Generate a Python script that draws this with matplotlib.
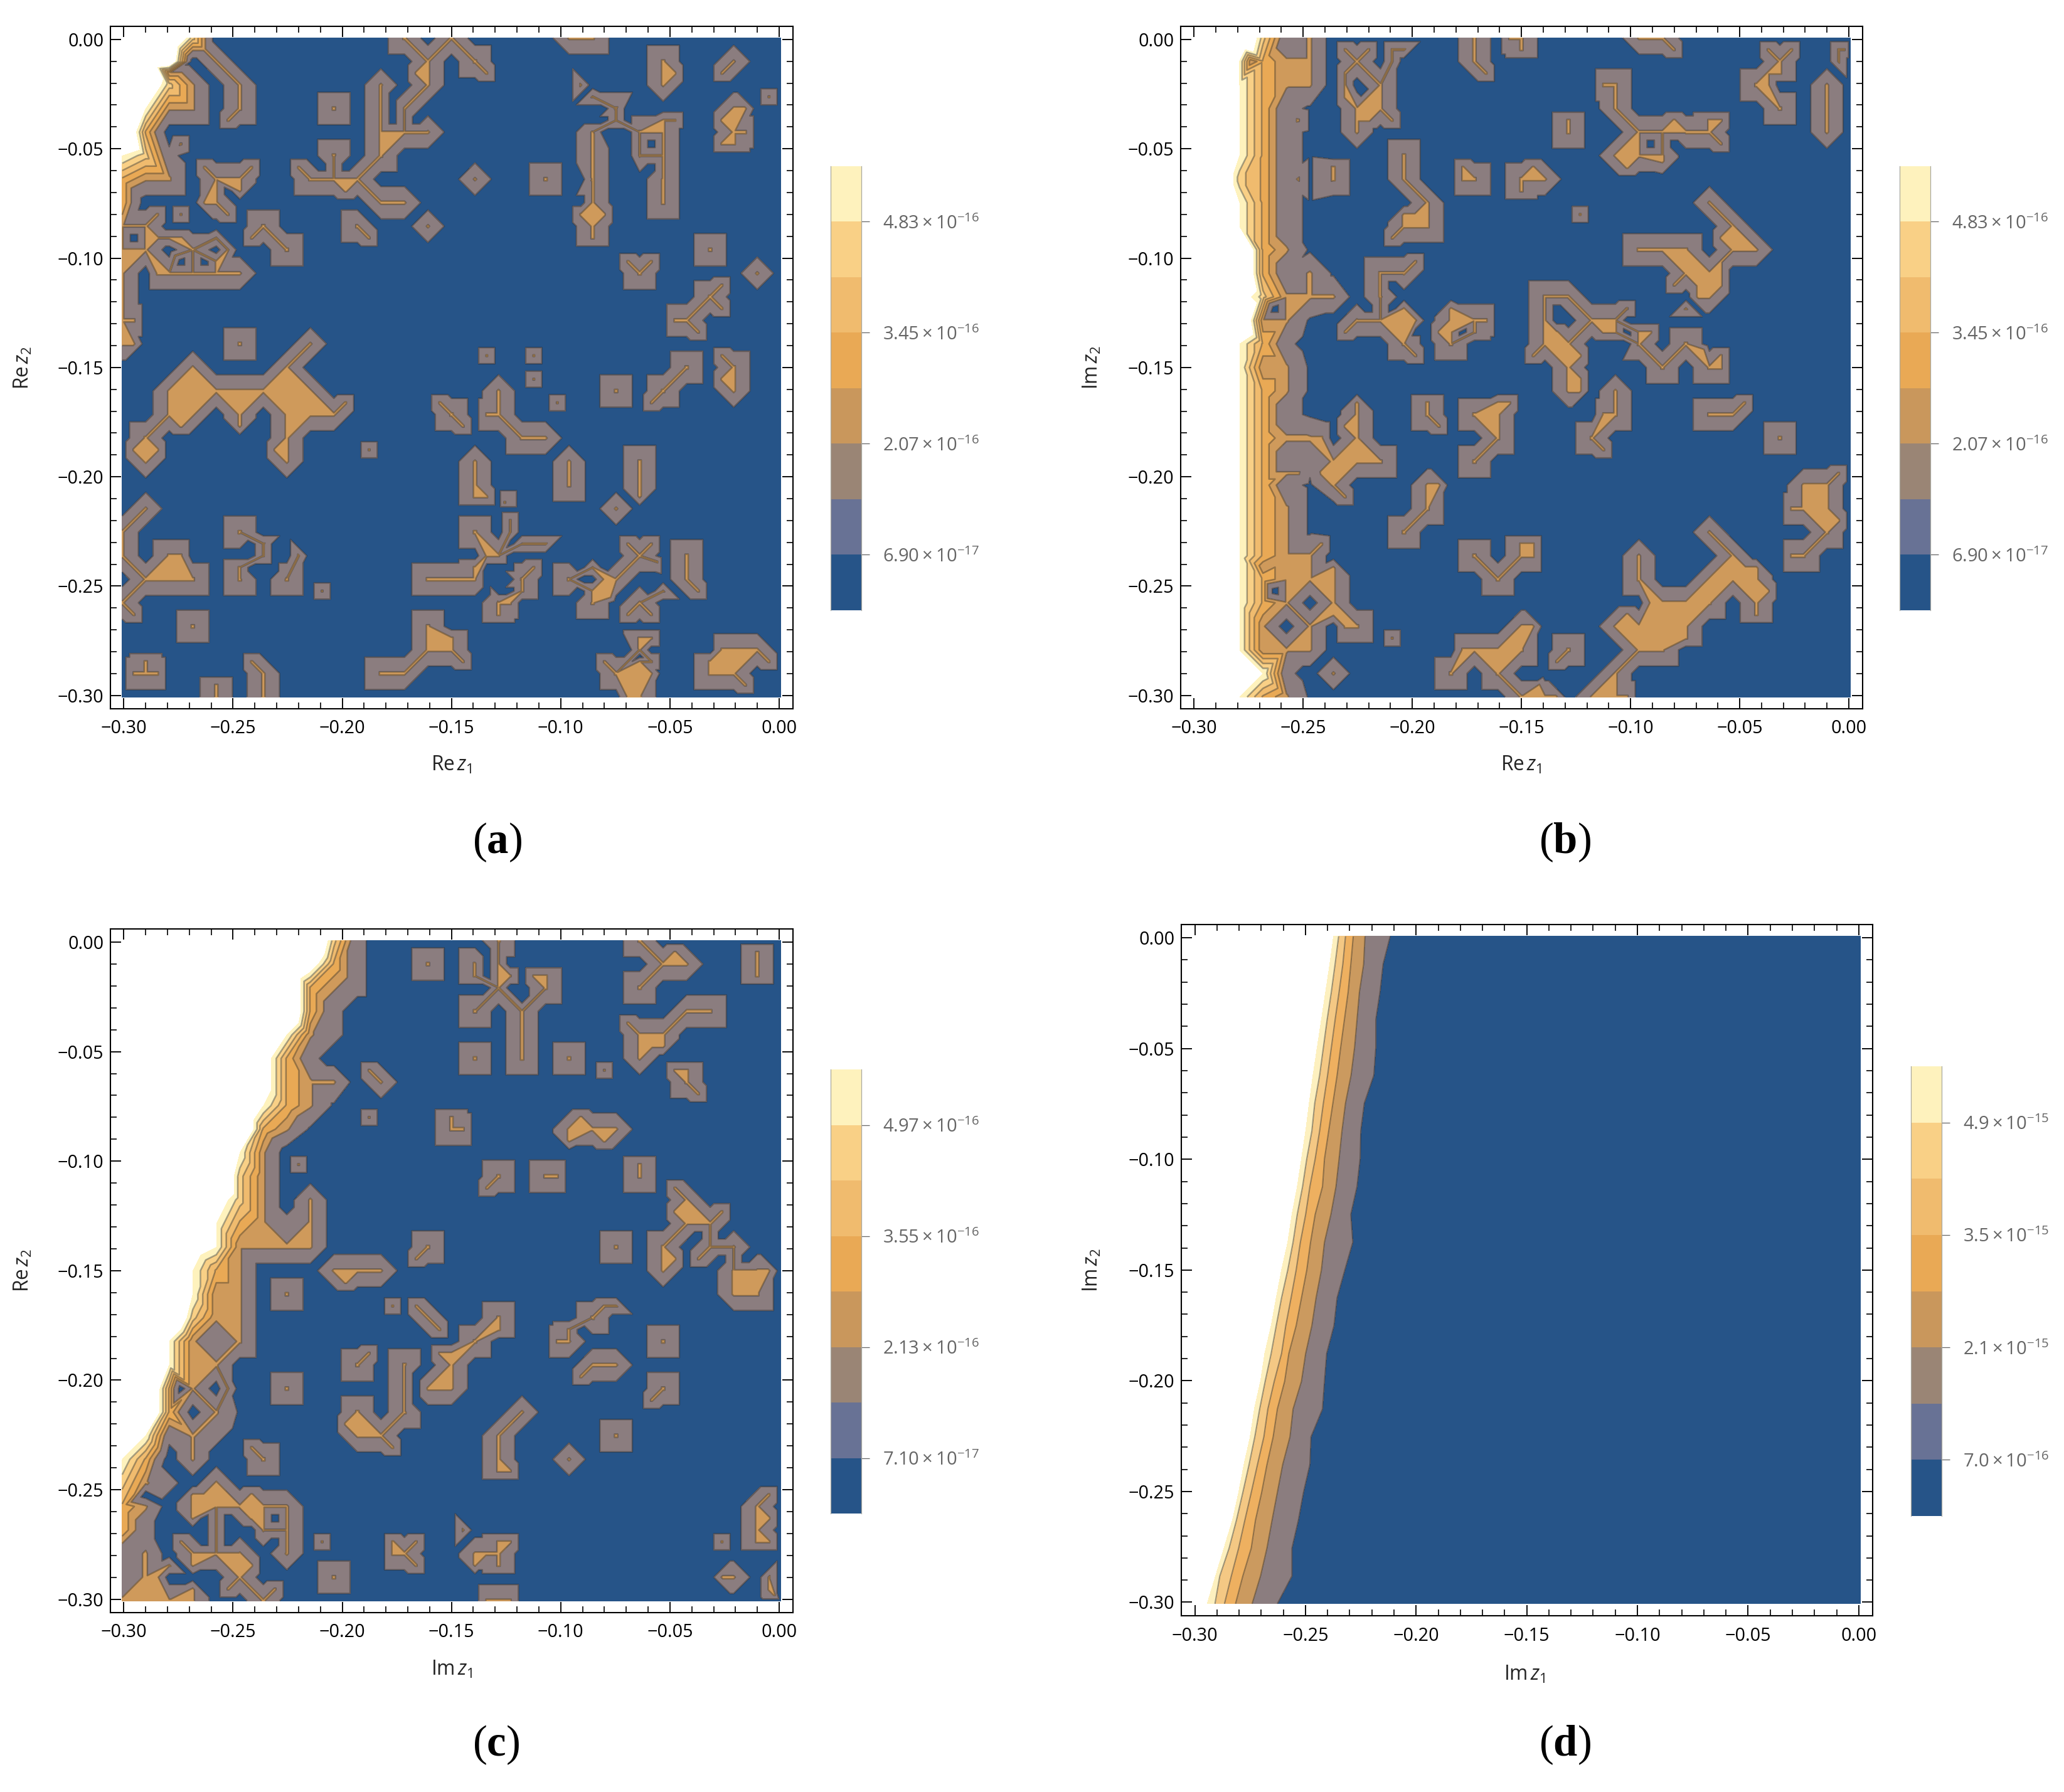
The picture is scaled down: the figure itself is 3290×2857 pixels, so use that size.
import numpy as np
import matplotlib
matplotlib.use('Agg')
import matplotlib.pyplot as plt
from matplotlib.colors import ListedColormap
from matplotlib.ticker import FixedLocator, FuncFormatter
from matplotlib.tri import Triangulation

plt.rcParams['font.family'] = ['Open Sans', 'DejaVu Sans']
plt.rcParams['mathtext.fontset'] = 'custom'
plt.rcParams['mathtext.rm'] = 'Open Sans'
plt.rcParams['mathtext.it'] = 'Open Sans:italic'
plt.rcParams['mathtext.bf'] = 'Liberation Serif:bold'

W, H = 3290, 2857
DPI = 300

# error values, in units of 1e-16, on a 29 x 29 grid (index i across, j down)
# points listed below have the value 2 (2.22e-16), half steps are mesh refinements
A_PTS = [(12,0),(14,0),(19,0),(20,0),(3.5,.5),(4,1),(4.5,1.5),(5,2),(5,2.5),(5,3),(4.5,3.5),(2,1.5),
    (13,1),(13,2),(12.5,1.5),(12,3),(12,4),(11,2),(11,3),(11,4),(11,5),(10.5,5.5),
    (10,6),(9,6),(8,6),(7.5,5.5),(9.5,6.5),(13,4),(9,5),(9,3),(15,6),(18,6),(13,8),(11,7),(12,7),
    (10,8),(10.5,8.5),(7,9),(6,8),(5.5,8.5),(4,8.5),(4.5,9),(15,1),(15.5,1.5),(19.5,2),(20,2.5),
    (21,3),(21,3.5),(23,1),(23,2),(23.5,1.5),(26,1),(25.5,1.5),(27.5,2.5),(26,3),(26.5,3),(26,4),
    (26.5,4),(25.5,3.5),(25.5,4.5),(26,4.5),(23,3.5),(23.5,3.5),(23,4),(22,4),(23,5),(22,5),(23,6),
    (23,7),(20,4),(20,5),(20,6),(20,7),(20.5,7.5),(20,8),(19.5,7.5),(20,8.5),(25,9),(21.5,9.5),
    (22.5,9.5),(22,10),(27,10),(25.5,10.5),(25,11),(25.5,11.5),(23.5,12),(24,12),(24.5,12.5),
    (25.5,13.5),(26,14),(25.5,14.5),(26,15),(24,14),(23.5,14.5),(23,15),(22.5,15.5),(21,15),
    (17.5,13.5),(15.5,13.5),(17.5,14.5),(18.5,15.5),(16,15),(16,16),(15.5,16),(13.5,15.5),(14,16),
    (14.5,16.5),(17,17),(18,17),(15,18),(15,19),(15.5,19.5),(15,19.5),(19,18),(19,19),(22,18),
    (22,19),(22,19.5),(21,20),(1,20),(1,17),(.5,17.5),(1.5,17.5),(1,18),(1,17.5),(10.5,17.5),
    (3,14),(3,15),(2,15),(2,16),(3,16),(2.5,16.5),(4,15),(5,15),(5,16),(5,16.5),(6,15),(8,13),(7,14),
    (7,15),(8,15),(8,16),(7,16),(9,16),(9.5,15.5),(7,17),(6.5,17.5),(7,18),(5,13),(0,12),(.5,12),
    (0,13),(.5,13),(0,11),(1.5,10),(2,10),(3,10),(4,10),(5,10),(4,9.5),(3,9),(1.5,8.5),(2,8.5),
    (2.5,8.5),(1.5,7.5),(2.5,7.5),(3.5,7),(4,7),(4.5,7.5),(2.25,9.25),(3.5,5.5),(4,6),(5,6),(5.5,5.5),
    (5,6.5),(2.5,4.5),(5,21),(6,21.5),(6,22),(7.5,22),(7,23),(5,22.5),(5,23),(8.5,23.5),(0,21),(0,22),
    (0,24),(.5,24.5),(2.5,22),(2,22),(1,23),(2,23),(3,23),(3,25),(1,26.5),(1,27),(.5,27),(1.5,27),
    (5.5,26.5),(6,27),(6,28),(4,27.5),(4,28),(13,25),(13,26),(12.5,26.5),(12,27),(11,27),(14,25.5),
    (14,26),(14.5,26.5),(15,21),(16.25,19.75),(16.5,20.5),(16.5,21),(17,21.5),(17.5,21.5),(18,21.5),
    (15.5,22),(16,22),(17.5,22.5),(17,23),(17,23.5),(15,22.5),(15,23),(14,23),(13,23),(16,24),
    (16.5,24),(16,24.5),(19,23),(20,22.5),(22.5,21.5),(22,22),(21.5,22.5),(21,23),(20.5,23),(20,23.5),
    (20,24),(21.5,21.5),(22.75,22.25),(20.75,23.75),(24,22),(24,23),(24.5,23.5),(23,23.5),(22,24),
    (21.5,24.5),(22.5,24.5),(22,25.5),(22.5,25.5),(22,26),(20.5,26.5),(21,27),(22,27),(22,28),(22,26.5),
    (22.5,26.5),(22.5,27),(21.5,28),(25,26.5),(25,27),(25.5,26),(26,26),(26.5,26.5),(27,26),
    (27.5,26.5),(26,27),(26.5,27.5)]
A_LOW = [(.5,8.5),(11.5,2.5),(11.5,3),(11.5,3.5),(3.5,9.5),(2.5,9.5),(4.5,6.5),(20,3.5),(20.5,3.5),(19.5,3.5),
    (20.5,4),(21.5,4),(21.5,5),(21.5,4.5),(20.5,3),(21.5,3),(21.5,3.5),(5.5,21.5),(5.5,22),(5.5,22.5),
    (6.5,21.5),(6.5,22),(6.5,22.5),(6,22.5),(15.5,22.5),(15.5,23),(15.5,23.5),(16,22.5),(16,23.5),(16.5,22),
    (16.5,22.5),(16.5,23),(16.5,23.5),(16.5,21.5),(17.5,22),(19.5,22.5),(19.5,23),(19.5,23.5),(20.5,22.5),
    (19.5,22),(21.5,23.5),(22.5,23.5),(21.5,26),(22.5,26),(22,26.25),(19.5,7),(19.5,6),(18.5,17.5),(21.5,19.5),
    (12.5,7.5),(10.5,7.5),(9.5,5.5),(8.5,5.5),(12.5,3.5),(22.5,5.5),(22.5,4.5)]
A_EDGE = {0:'8884', 1:'8870', 2:'8742', 3:'8522', 4:'8300', 5:'5410', 6:'322', 7:'3', 8:'22', 9:'22', 10:'2'}

B_PTS = [(2.5,1),(6.5,.5),(7.5,.5),(7,1),(6.5,1.5),(7.5,1.5),(8,2),(6.5,2),(6.5,2.5),(7,3),(8,3),(8,2.5),
    (7,3.5),(7,4),(8.5,3.5),(8.5,.5),(9,.5),(8.5,1),(12,0),(12,.5),(12,1),(12.5,1.5),(14,0),(14,.5),
    (13.5,0),(19,0),(20,0),(20.5,.5),(24.5,.5),(25.5,.5),(25,1),(24.5,1.5),(25,1.5),(24.5,2),(24,2),
    (27.5,.5),(27.75,.5),(27.5,1),(27,2),(27,3),(27,4),(25,3),(18,2),(17.5,2),(18,3),(16,3.5),(16,4),
    (22,3.5),(22.5,3.5),(22,4),(22.5,4.5),(20,4),(21,4),(20.5,3.5),(19,4),(19,5),(20,5),(18,5),(18.5,5.5),
    (20,5.25),(9,5),(9,6),(9.5,6.5),(10,7),(10,8),(9,8),(8.5,8.5),(9,7.5),(6,5.5),(6,6),(11.5,5.5),
    (11.5,6),(12,6),(14.5,5.5),(14,6),(15,6),(14,6.5),(22,7),(16.5,7.5),(23,8),(22.5,8.5),(23,9),(24,9),
    (22.5,9.5),(22,10),(22.5,10),(22,11),(21.5,11),(22.5,10.5),(21,10),(20.5,10.5),(21,9),(20,9),(19,9),
    (21,11.5),(21,13),(21.75,13.25),(20,14),(22.5,13.5),(22,14),(22.5,14),(19,12.5),(19.5,12.5),(19,13),
    (9.5,9.5),(9,10),(8,10),(8,11),(8,12),(7,12),(6.5,12.5),(9,12),(9,11.5),(9.5,12),(9,13),(9.5,13.5),
    (11,11.5),(11,12),(12,12),(12.5,12),(12,12.5),(10.5,12.5),(11,13),(11,12.5),(15,11),(16,11),
    (17,12),(18,12),(18.5,11.5),(18,12.5),(17.5,12.5),(15,12),(15,13),(14.5,13.5),(16,13),(16,14),
    (16.5,14.5),(16,14.5),(16.5,13.5),(18,15),(18,16),(17.5,16),(16,15),(16.5,15),(10,15.5),(10,16),
    (10.5,16.5),(13.5,15.5),(13,16),(12,16),(13,17),(13,15.5),(12.5,16.5),(7,15.5),(7,16),(6.5,16.5),
    (7,17),(7,18),(22,16),(23,16),(23.5,15.5),(25,17),(17,17),(17.5,17.5),(12,18),(7.5,18),(8,18),(10,19),
    (10.5,19),(10,19.5),(10,20),(9,21),(12,22),(22,21),(19,22),(19,23),(14,21.5),(14.5,21.5),(14,22),
    (14.5,22),(13.5,22.5),(13,23),(23,22),(23,23),(22,23),(24,23),(24,22.5),(24,24),(24,24.5),(24.5,23.5),
    (21.5,23.5),(21,24),(19.5,24),(20,24),(22,24),(20,25),(21,25),(19,25),(18,25),(18.5,24.5),(21,25.5),
    (19,26),(20,26),(18.5,26.5),(18,27),(17.5,27.5),(17,28),(18,28),(18.5,28),(18,27.5),(27.5,18.5),(27,19),
    (26,19),(26,20),(27,20),(25.5,20),(27.5,20.5),(27,21),(26.5,21.5),(26,22),(25.5,22),(26.5,20.5),(11,27),
    (11.5,26),(12,26),(13,26),(14,25),(14.5,25),(14,26),(13.5,26.5),(12.5,26.5),(13,27),(14,28),(13.5,27.5),
    (14.5,28),(15,28),(15.5,28),(14.75,27.5),(15.5,26.5),(16,26),(8.5,25.5),(6.5,25),(7,25),(6,27),(6,18),
    (5.5,18.5),(6,19),(6.5,19.5),(4,18.5),(4.5,18.5),(4,19),(4.5,3.5),(4.5,6),(5.5,21.5),(6,22.5),(6,23),
    (6,24),(6,24.5),(5.5,23.5),(5.5,17),(3,22.5)]
B_LOW = [(3.5,11.5),(3.5,23.5),(7.25,2.25),(18.5,12),(18.5,12.5),(18.5,13),(11.5,12.5),(8.5,10.5),(8.5,11.5),
    (7.5,11.5),(10,12.5),(9.5,12.5),(15.5,11.5),(15.5,12),(19.5,4.5),(20.5,4.5)]
B_EDGE = {0:'888412', 1:'885322', 2:'885322', 3:'88531a', 4:'88531a', 5:'88531a', 6:'88431a', 7:'88531a',
    8:'88531a', 9:'88832a', 10:'888312a', 11:'8864222', 12:'88822a', 13:'88531', 14:'88522a', 15:'88532a',
    16:'88531a', 17:'885322', 18:'885311', 19:'88531a', 20:'88532a', 21:'88532a', 22:'885322', 23:'885322',
    24:'88532', 25:'885202', 26:'885222', 27:'88551', 28:'88532a'}

C_PTS = [(16,0),(13,1),(15,1),(15,1.5),(16,1),(16.5,1.5),(16,2),(17.5,1.5),(18,1.5),(18,2),(22,0),(22.5,.5),
    (23,1),(24,1),(23.5,.5),(27,.5),(27,1),(27,1.5),(22,2),(15,3),(17,3),(17,4),(17,5),(15,5),(19,5),
    (20.5,5.5),(10.5,5.5),(11,6),(10.5,7.5),(14,7.5),(14,8),(14.5,8),(23.5,5.5),(24,6),(24.5,6.5),(24,5.5),
    (21.5,3.5),(22,4),(23,4),(24,3),(25,3),(23.5,3.5),(22,5),(23,4.5),(22.5,4.5),(19,8),(19.5,7.5),(20,8),
    (21,8),(20.5,8.5),(19,8.5),(7.5,9.5),(16,10),(15.5,10.5),(18,10),(18.5,10),(22,9.5),(22,10),(23.5,10.5),
    (24,11),(24,12),(25,12),(25.5,11.5),(23.5,11.5),(25,13),(24.5,13.5),(26,13),(26,14),(26,15),(27,15),
    (27,14),(27.5,14),(21,13),(23,13),(23.5,13.5),(23,14),(13,13),(12.5,13.5),(9,14),(10,14),(11,14),
    (9.5,14.5),(7,15),(11.5,15.5),(12.5,15.5),(13,16),(13.5,16.5),(20.5,15.5),(21,15.5),(20,16),(16,16),
    (16,16.5),(15,17),(19,16.5),(19,17),(18.5,17),(23,17),(10.5,17.5),(10,18),(12,18),(12,19),(12,20),
    (11.5,20.5),(11,21),(11.5,21.5),(10,20),(9.5,20.5),(10,21),(10.5,20.5),(13.5,17.5),(14,17.5),(14,18),
    (14,19),(13,19),(13.5,18.5),(21,18),(20.5,18),(20,18),(19.5,18.5),(23,19),(22.5,19.5),(7,19),(4.5,19),
    (17,20),(21,21),(19,22),(16,21),(16,22),(16,22.5),(16.5,22.5),(5.5,21.5),(6,22),(14.5,25),(8.5,25.5),
    (25.5,25.5),(27.5,23.5),(27,24),(27.5,24.5),(27,25),(27.5,25.5),(27,25.5),(27.5,27),(27.5,27.5),
    (27.75,27.75),(25.5,27),(26,27),(9,27),(16,28),(15.5,28),(16.5,28),(6,28),(6.5,27.5),(4.5,27.5),(5,27),
    (5.5,26.5),(5,26.5),(4,23),(4,24),(4,25),(4,26),(3,24),(5,24),(5.5,23.5),(6,24),(7,24),(7,25),(7,26),
    (6,25),(5.5,24.5),(3,23.5),(3,24.5),(3,26),(5,26),(2.5,25.5),(3,26.5),(11.5,25.5),(11.5,26),(12,26),
    (12.5,25.5),(12.5,26.5),(16.5,25.5),(16,25.5),(16,26),(15.5,26),(15,26),(15,26.5),(16,26.5),(2,26.5),
    (1,27.5),(1,27),(1.5,27),(2,28),(3,28),(3,27.5),(8,11),(8,12)]
C_LOW = [(2.5,19),(1,23.5),(6.5,24.5),(15.5,.5),(15.5,1),(15.5,1.5),(15.5,2),(17,1.5),(17,2.5),(16.5,1),(16.5,2),
    (19.5,16.5),(19.5,17.5),(12.5,18.5),(12.5,19),(12.5,19.5),(3.5,24.5),(3.5,25),(4.5,24.5),(4.5,25),(3.5,25.5),
    (4.5,25.5),(5.5,25),(5.5,25.5),(6.5,25.5),(25.5,12.5),(25.5,13.5),(24.5,12.5),(26.5,13.5)]
C_EDGE = {0:'88888888841', 1:'88888888631', 2:'88888888321', 3:'8888888831', 4:'8888888521', 5:'888888631',
    6:'8888886322', 7:'888888532a', 8:'88888832a', 9:'8888852', 10:'8888842', 11:'8888642', 12:'888853212',
    13:'888652222', 14:'888532', 15:'888522', 16:'888422', 17:'885212', 18:'88522', 19:'8832', 20:'88302a',
    21:'85121', 22:'53020', 23:'421', 24:'32', 25:'31', 26:'12', 27:'12', 28:'22'}

# panel (d) is a smooth band: x position (in 1e-3) of each contour, read row by row
D_ROWS = [0,-12.5,-25,-37.5,-50,-62.5,-75,-87.5,-100,-112.5,-125,-137.5,-150,-162.5,-175,-187.5,-200,
    -212.5,-225,-237.5,-250,-262.5,-275,-287.5,-300]
D_EDGE_TOP = [-237.3,-239.0,-240.9,-242.8,-244.7,-246.6,-248.3,-249.9,-251.8,-253.7,-256.1,-258.0,-260.8,
    -263.2,-265.5,-268.4,-270.3,-273.1,-275.0,-277.8,-280.2,-283.0,-286.8,-290.6,-294.4]
D_EDGE_4 = [-235.0,-236.6,-238.3,-240.2,-241.9,-243.6,-245.8,-247.1,-249.4,-251.3,-253.7,-255.6,-258.0,
    -260.8,-263.2,-265.5,-268.2,-270.7,-272.9,-275.5,-278.3,-281.2,-284.5,-288.7,-290.9]
D_EDGE_3 = [-231.9,-233.1,-234.8,-236.6,-238.3,-240.0,-241.9,-243.6,-245.6,-248.0,-249.9,-252.3,-254.2,
    -256.5,-258.9,-260.8,-264.1,-267.0,-268.8,-271.7,-274.5,-277.4,-280.2,-283.5,-286.6]
D_EDGE_2 = [-228.4,-229.5,-230.7,-232.4,-234.1,-235.7,-237.6,-239.5,-241.4,-242.3,-245.6,-247.7,-249.4,
    -251.8,-254.2,-257.5,-259.4,-262.7,-264.6,-267.4,-269.8,-272.6,-274.5,-278.3,-281.6]
D_EDGE_1 = [-223.1,-223.7,-225.6,-226.7,-227.8,-229.4,-231.9,-233.5,-234.8,-236.2,-238.5,-241.4,-242.8,
    -245.2,-247.1,-249.9,-251.8,-255.6,-257.0,-260.3,-262.7,-265.1,-267.4,-270.3,-274.1]
D_EDGE_0 = [-211.7,-214.9,-216.3,-218.2,-218.2,-219.1,-223.4,-225.0,-225.3,-226.7,-229.5,-228.6,-232.2,
    -235.7,-237.1,-240.4,-241.4,-242.3,-247.5,-248.0,-250.9,-253.2,-256.1,-256.1,-262.7]

# colours and contour levels (1e-16 for a, b, c)
BAND_COLORS = ['#265488', '#687295', '#9a8575', '#c9975c', '#e9a955', '#f0bb6e', '#f9d086', '#fef2bd']
PLOT_LEVELS = [-1, 0.69, 2.07, 2.76, 3.45, 4.14, 4.83, 5.52]
PLOT_COLORS = ['#265488', '#8b7d7f', '#cf9a5b', '#e9a955', '#f0bb6e', '#f9d086', '#fef2bd']
D_LEVELS = [-1, 0.69, 2.07, 3.45, 4.14, 5.52, 6.0]
D_COLORS = ['#265488', '#8b7d7f', '#cb9a5f', '#eeb060', '#f4c884', '#fdf0bf']

TICKS_AB = [('6.90', -17), ('2.07', -16), ('3.45', -16), ('4.83', -16)]
TICKS_C = [('7.10', -17), ('2.13', -16), ('3.55', -16), ('4.97', -16)]
TICKS_D = [('7.0', -16), ('2.1', -15), ('3.5', -15), ('4.9', -15)]

fig = plt.figure(figsize=(W / DPI, H / DPI), dpi=DPI)


def add_px_axes(l, t, r, b):
    return fig.add_axes([l / W, 1 - b / H, (r - l) / W, (b - t) / H])


def px_text(x, y, s, **kw):
    fig.text(x / W, 1 - y / H, s, ha='center', va='center', **kw)


def style_axes(ax):
    ax.set_xlim(-0.3061, 0.0063)
    ax.set_ylim(-0.3061, 0.0060)
    major = [-0.30, -0.25, -0.20, -0.15, -0.10, -0.05, 0.0]
    minor = [-k / 100 for k in range(31) if k % 5]
    for axis in (ax.xaxis, ax.yaxis):
        axis.set_major_locator(FixedLocator(major))
        axis.set_minor_locator(FixedLocator(minor))
        axis.set_major_formatter(FuncFormatter(lambda v, p: f'{v:.2f}'.replace('-', '\u2212')))
    ax.tick_params(which='major', direction='in', length=4.0, width=0.45, top=True, right=True,
                   labelsize=6.9, pad=2.6)
    ax.tick_params(which='minor', direction='in', length=2.5, width=0.4, top=True, right=True)
    ax.tick_params(axis='x', which='major', pad=4.2)
    for s in ax.spines.values():
        s.set_linewidth(0.5)


def is_lattice(i, j):
    return float(i).is_integer() and float(j).is_integer()


def build_mesh(pts, low, edge):
    n = 29
    z = np.zeros((n, n))
    extra = {}
    for i, j in pts:
        if is_lattice(i, j):
            z[int(j), int(i)] = 2.22
        else:
            extra[(i, j)] = 2.22
    # diagonal runs over odd lattice points have no mesh edge, join them through the cell centre
    high = {(int(i), int(j)) for i, j in pts if is_lattice(i, j)}
    for i, j in high:
        if (i + j) % 2:
            if (i + 1, j + 1) in high:
                extra[(i + .5, j + .5)] = 2.22
            if (i + 1, j - 1) in high:
                extra[(i + .5, j - .5)] = 2.22
    for i, j in low:
        if is_lattice(i, j):
            z[int(j), int(i)] = 0.0
        else:
            extra[(i, j)] = 0.0
    for j, row in edge.items():
        for i, c in enumerate(row):
            z[j, i] = 0.5 if c == 'a' else int(c) * 1.11

    xs = [float(i) for j in range(n) for i in range(n)]
    ys = [float(j) for j in range(n) for i in range(n)]
    vals = list(z.ravel())
    tris = []
    for j in range(n - 1):
        for i in range(n - 1):
            a, b, c, d = i + n * j, i + 1 + n * j, i + 1 + n * (j + 1), i + n * (j + 1)
            # union jack split, the diagonal starts from the even lattice points
            if (i + j) % 2 == 0:
                tris += [(a, b, c), (a, c, d)]
            else:
                tris += [(b, c, d), (b, d, a)]

    # insert the refinement points
    for (px, py), v in extra.items():
        k = len(xs)
        xs.append(float(px))
        ys.append(float(py))
        vals.append(v)
        out = []
        for t in tris:
            p0, p1, p2 = t
            det = (xs[p1] - xs[p0]) * (ys[p2] - ys[p0]) - (xs[p2] - xs[p0]) * (ys[p1] - ys[p0])
            l1 = ((px - xs[p0]) * (ys[p2] - ys[p0]) - (xs[p2] - xs[p0]) * (py - ys[p0])) / det
            l2 = ((xs[p1] - xs[p0]) * (py - ys[p0]) - (px - xs[p0]) * (ys[p1] - ys[p0])) / det
            l0 = 1 - l1 - l2
            eps = 1e-9
            if min(l0, l1, l2) < -eps:
                out.append(t)
            elif abs(l0) < eps:
                out += [(p1, k, p0), (k, p2, p0)]
            elif abs(l1) < eps:
                out += [(p2, k, p1), (k, p0, p1)]
            elif abs(l2) < eps:
                out += [(p0, k, p2), (k, p1, p2)]
            else:
                out += [(p0, p1, k), (p1, p2, k), (p2, p0, k)]
        tris = out

    pad = 0.0007
    step = (0.3 + 2 * pad) / 28
    x = -0.3 - pad + np.array(xs) * step
    y = pad - np.array(ys) * step
    return Triangulation(x, y, np.array(tris)), np.array(vals)


def draw_grid_panel(ax, pts, low, edge):
    tri, vals = build_mesh(pts, low, edge)
    ax.tricontourf(tri, vals, levels=PLOT_LEVELS, colors=PLOT_COLORS)
    ax.tricontour(tri, vals, levels=PLOT_LEVELS[1:-1], colors='#2a2a2a', linewidths=0.6, alpha=0.42)


def draw_band_panel(ax):
    n = len(D_ROWS)
    y = np.array(D_ROWS) / 1000 * (0.3014 / 0.3) + 0.0007
    left = np.full(n, -0.3007)
    right = np.full(n, 0.0007)
    cols = [left] + [np.array(c) / 1000 for c in (D_EDGE_TOP, D_EDGE_4, D_EDGE_3, D_EDGE_2, D_EDGE_1, D_EDGE_0)] + [right]
    cols[0] = np.minimum(left, cols[1] - 1e-4)
    X = np.column_stack(cols)
    Y = np.column_stack([y] * len(cols))
    # outer edges of the six bands: top, then the five drawn contours
    col_vals = [9.0, 6.0, 5.52, 4.14, 3.45, 2.07, 0.69, -1.0]
    Z = np.tile(col_vals, (n, 1))
    ax.contourf(X, Y, Z, levels=D_LEVELS, colors=D_COLORS)
    ax.contour(X, Y, Z, levels=[0.69, 2.07, 3.45, 4.14, 5.52], colors='#2a2a2a', linewidths=0.5, alpha=0.45)


def draw_bar(l, t, r, b, step, ticks):
    ax = add_px_axes(l, t, r, b)
    edges = [step * k for k in range(9)]
    cmap = ListedColormap(BAND_COLORS)
    ax.pcolormesh([0, 1], edges, np.arange(8).reshape(8, 1), cmap=cmap, vmin=-0.5, vmax=7.5)
    ax.set_xticks([])
    ax.yaxis.tick_right()
    ax.set_yticks([step * k for k in (1, 3, 5, 7)])
    ax.set_yticklabels([rf'${m}\times10^{{{e}}}$'.replace('-', '\u2212') for m, e in ticks])
    ax.tick_params(axis='y', length=3.1, width=0.3, color='#666666', labelcolor='#666666', labelsize=7.0, pad=5.0)
    for s in ax.spines.values():
        s.set_linewidth(0.3)
        s.set_color('#a9a9a0')
    ax.spines['top'].set_visible(False)
    ax.spines['bottom'].set_visible(False)


# panel a
ax_a = add_px_axes(176, 42, 1264, 1130)
draw_grid_panel(ax_a, A_PTS, A_LOW, A_EDGE)
style_axes(ax_a)
# panel b
ax_b = add_px_axes(1882, 42, 2969, 1130)
draw_grid_panel(ax_b, B_PTS, B_LOW, B_EDGE)
style_axes(ax_b)
# panel c
ax_c = add_px_axes(176, 1481, 1264, 2571)
draw_grid_panel(ax_c, C_PTS, C_LOW, C_EDGE)
style_axes(ax_c)
# panel d
ax_d = add_px_axes(1883, 1474, 2985, 2576)
draw_band_panel(ax_d)
style_axes(ax_d)

draw_bar(1324, 265, 1373, 973, 0.69, TICKS_AB)
draw_bar(3028, 265, 3077, 973, 0.69, TICKS_AB)
draw_bar(1324, 1705, 1373, 2413, 0.71, TICKS_C)
draw_bar(3046, 1700, 3095, 2417, 0.70, TICKS_D)

LABEL = dict(fontsize=7.6, color='#222222')
px_text(720, 1220, r'Re$\,z_1$', **LABEL)
px_text(2425, 1220, r'Re$\,z_1$', **LABEL)
px_text(720, 2662, r'Im$\,z_1$', **LABEL)
px_text(2430, 2670, r'Im$\,z_1$', **LABEL)
px_text(37, 586, r'Re$\,z_2$', rotation=90, **LABEL)
px_text(1741, 586, r'Im$\,z_2$', rotation=90, **LABEL)
px_text(37, 2025, r'Re$\,z_2$', rotation=90, **LABEL)
px_text(1741, 2025, r'Im$\,z_2$', rotation=90, **LABEL)

CAP = dict(fontsize=16.5, family='Liberation Serif', color='black')
px_text(793, 1343, r'($\mathbf{a}$)', **CAP)
px_text(2495, 1343, r'($\mathbf{b}$)', **CAP)
px_text(791, 2782, r'($\mathbf{c}$)', **CAP)
px_text(2495, 2782, r'($\mathbf{d}$)', **CAP)

fig.savefig('out.png', dpi=DPI)
